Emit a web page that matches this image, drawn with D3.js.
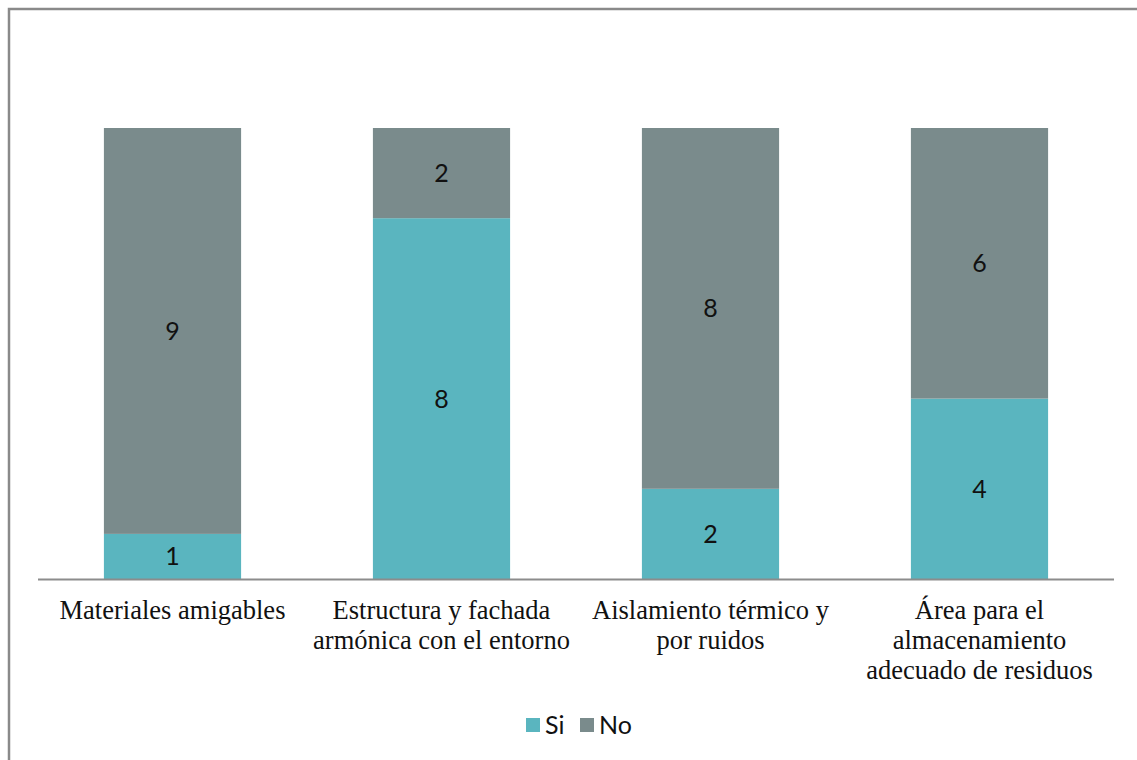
<!DOCTYPE html>
<html>
<head>
<meta charset="utf-8">
<script src="https://cdn.jsdelivr.net/npm/d3@7"></script>
<style>
  html, body { margin: 0; padding: 0; background: #fff; }
  svg { display: block; }
</style>
</head>
<body>
<svg id="chart" width="1137" height="760"></svg>
<script>
// Survey answers per building criterion
const categories = [
  ["Materiales amigables"],
  ["Estructura y fachada", "armónica con el entorno"],
  ["Aislamiento térmico y", "por ruidos"],
  ["Área para el", "almacenamiento", "adecuado de residuos"]
];
const siValues = [1, 8, 2, 4];
const noValues = [9, 2, 8, 6];
const seriesNames = ["Si", "No"];
const seriesColors = ["#5AB5BF", "#7A8B8C"];

const svg = d3.select("#chart");
const W = 1137, H = 760;

// outer frame (left and top edges visible)
svg.append("path")
  .attr("d", `M9,${H} V9 H${W}`)
  .attr("fill", "none")
  .attr("stroke", "#8a8a8a")
  .attr("stroke-width", 2.5);

const plot = { left: 38, right: 1114, top: 128, bottom: 579 };

const x = d3.scaleBand()
  .domain(d3.range(categories.length))
  .range([plot.left, plot.right])
  .paddingInner(0.49)
  .paddingOuter(0.245);

const maxTotal = d3.max(siValues.map((v, i) => v + noValues[i]));
const y = d3.scaleLinear().domain([0, maxTotal]).range([plot.bottom, plot.top]);

const rows = categories.map((c, i) => ({ i, Si: siValues[i], No: noValues[i] }));
const stack = d3.stack().keys(seriesNames)(rows);

const layers = svg.append("g").selectAll("g")
  .data(stack)
  .join("g")
  .attr("fill", (d, k) => seriesColors[k]);

layers.selectAll("rect")
  .data(d => d)
  .join("rect")
  .attr("x", d => x(d.data.i))
  .attr("width", x.bandwidth())
  .attr("y", d => y(d[1]))
  .attr("height", d => y(d[0]) - y(d[1]));

// value labels centred in each segment
layers.selectAll("text")
  .data(d => d.map(s => ({ s, v: s[1] - s[0] })))
  .join("text")
  .attr("x", d => x(d.s.data.i) + x.bandwidth() / 2)
  .attr("y", d => (y(d.s[0]) + y(d.s[1])) / 2)
  .attr("dy", "0.36em")
  .attr("text-anchor", "middle")
  .attr("fill", "#111")
  .style("font-family", "Lato, 'Open Sans', sans-serif")
  .style("font-size", "25px")
  .text(d => d.v);

// category axis
const axis = svg.append("g")
  .attr("transform", `translate(0,${plot.bottom})`)
  .call(d3.axisBottom(x).tickSize(0).tickFormat(""));
axis.select(".domain")
  .attr("d", `M${plot.left},0.5H${plot.right}`)
  .attr("stroke", "#8c8c8c")
  .attr("stroke-width", 2);

const labels = svg.append("g").selectAll("text")
  .data(categories)
  .join("text")
  .attr("x", (d, i) => x(i) + x.bandwidth() / 2)
  .attr("y", 610)
  .attr("text-anchor", "middle")
  .attr("fill", "#111")
  .style("font-family", "'Liberation Serif', 'Times New Roman', serif")
  .style("font-size", "26.5px");
labels.selectAll("tspan")
  .data(d => d)
  .join("tspan")
  .attr("x", function () { return d3.select(this.parentNode).attr("x"); })
  .attr("dy", (d, j) => j === 0 ? "0.33em" : "30px")
  .text(d => d);

// legend
const legend = svg.append("g")
  .style("font-family", "Lato, 'Open Sans', sans-serif")
  .style("font-size", "25px");
const legendX = [526, 580];
seriesNames.forEach((name, k) => {
  const g = legend.append("g").attr("transform", `translate(${legendX[k]},725)`);
  g.append("rect").attr("x", 0).attr("y", -7).attr("width", 14).attr("height", 14)
    .attr("fill", seriesColors[k]);
  g.append("text").attr("x", 19).attr("y", 0).attr("dy", "0.36em")
    .attr("fill", "#111").text(name);
});
</script>
</body>
</html>
